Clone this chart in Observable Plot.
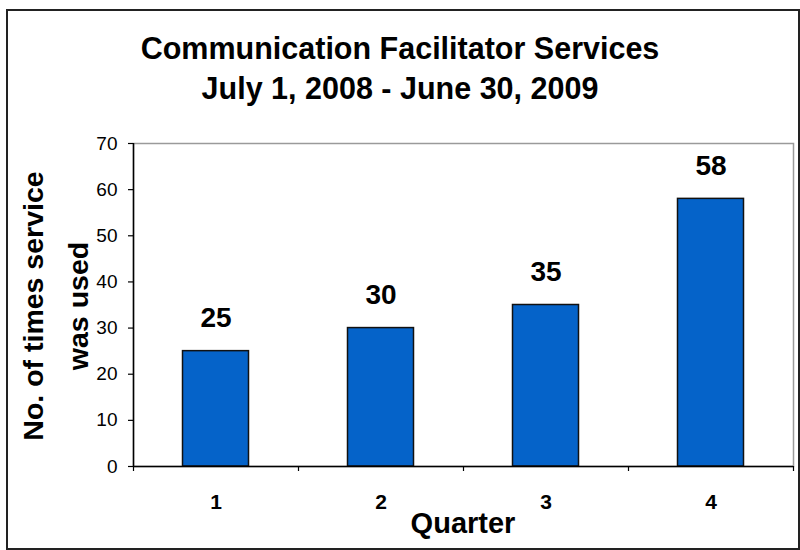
<!DOCTYPE html>
<html>
<head>
<meta charset="utf-8">
<script src="https://cdn.jsdelivr.net/npm/d3@7"></script>
<script src="https://cdn.jsdelivr.net/npm/@observablehq/plot@0.6"></script>
<style>
  html, body { margin: 0; padding: 0; background: #fff; }
  #wrap { position: relative; width: 800px; height: 550px; overflow: hidden; font-family: "Liberation Sans", Arial, sans-serif; color: #000; }
  #border { position: absolute; left: 6px; top: 9px; width: 790px; height: 537px; border: 2px solid #222; }
  #title { position: absolute; left: 0; top: 28px; width: 800px; text-align: center; font-weight: bold; font-size: 30.5px; line-height: 40px; }
  #ylab { position: absolute; left: -144px; top: 261px; width: 400px; height: 90px; text-align: center; font-weight: bold; font-size: 28.5px; line-height: 45px; transform: rotate(-90deg); transform-origin: 200px 45px; }
  #xlab { position: absolute; left: 263px; top: 503px; width: 400px; text-align: center; font-weight: bold; font-size: 29px; line-height: 40px; }
  #chart { position: absolute; left: 0; top: 0; }
</style>
</head>
<body>
<div id="wrap">
  <div id="border"></div>
  <div id="chart"></div>
  <div id="title">Communication Facilitator Services<br>July 1, 2008 - June 30, 2009</div>
  <div id="ylab">No. of times service<br>was used</div>
  <div id="xlab">Quarter</div>
</div>
<script>
const quarters = [1, 2, 3, 4];
const counts = [25, 30, 35, 58];
const yTicks = [0, 10, 20, 30, 40, 50, 60, 70];
const boundaries = [0.5, 1.5, 2.5, 3.5, 4.5];

const data = quarters.map((q, i) => ({q, v: counts[i]}));

const chart = Plot.plot({
  width: 800,
  height: 550,
  marginTop: 143,
  marginLeft: 133,
  marginRight: 7,
  marginBottom: 84,
  x: {domain: [0.5, 4.5]},
  y: {domain: [0, 70]},
  style: {fontFamily: "'Liberation Sans', Arial, sans-serif", color: "#000", background: "transparent", overflow: "visible"},
  marks: [
    Plot.frame({stroke: "#9a9a9a", strokeWidth: 1.5}),
    Plot.rectY(data, {x1: d => d.q - 0.2, x2: d => d.q + 0.2, y: "v", fill: "#0563c9", stroke: "#111", strokeWidth: 1.5}),
    Plot.ruleY([0], {stroke: "#000", strokeWidth: 1.5}),
    Plot.ruleX([0.5], {stroke: "#000", strokeWidth: 1.5}),
    Plot.axisY({ticks: yTicks, tickSize: 5, tickPadding: 11, fontSize: 19, label: null, strokeWidth: 1.2}),
    Plot.axisX({ticks: boundaries, tickSize: 5, tickFormat: () => "", label: null, strokeWidth: 1.2}),
    Plot.axisX({ticks: quarters, tickSize: 0, tickPadding: 28, fontSize: 21, fontWeight: "bold", label: null, tickFormat: d => String(d)}),
    Plot.text(data, {x: "q", y: "v", text: d => String(d.v), dy: -24, lineAnchor: "bottom", fontSize: 28, fontWeight: "bold"})
  ]
});
document.getElementById("chart").appendChild(chart);
</script>
</body>
</html>
